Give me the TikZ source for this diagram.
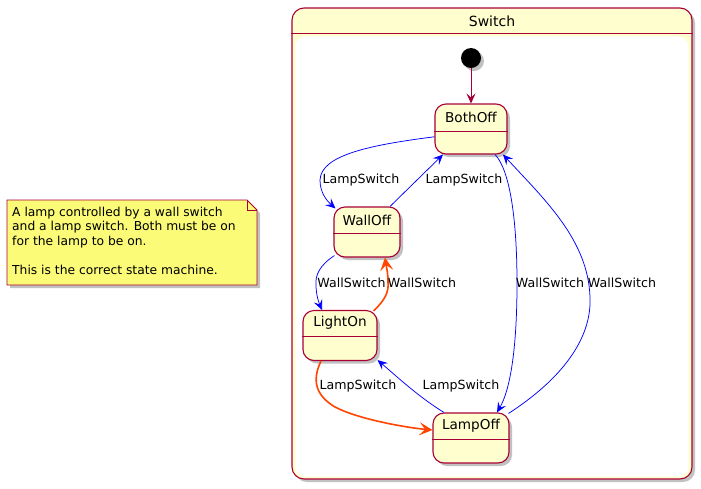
\documentclass[tikz,border=0pt]{standalone}
\usepackage{fontspec}
\setmainfont{DejaVu Sans}
\usetikzlibrary{arrows.meta,shadows,calc}
\definecolor{stfill}{HTML}{FEFECE}
\definecolor{stborder}{HTML}{A80036}
\definecolor{notefill}{HTML}{FBFB77}
\definecolor{edgeblue}{HTML}{0000FF}
\definecolor{edgeorange}{HTML}{FF4500}
\tikzset{
  shad/.style={drop shadow={shadow xshift=3pt,shadow yshift=-3pt,opacity=0.4,fill=black!60}},
  statebox/.style={draw=stborder,fill=stfill,line width=1.1pt,rounded corners=11pt,shad,inner sep=0pt,minimum height=50pt},
  divider/.style={draw=stborder,line width=0.8pt},
  lbl/.style={font=\fontsize{12.6}{14}\selectfont,inner sep=1pt},
  stname/.style={font=\fontsize{13.6}{15}\selectfont,inner sep=0pt},
  ar/.style={-{Stealth[length=10pt,width=9pt,inset=4pt]}},
  bl/.style={ar,draw=edgeblue,line width=0.75pt},
  orr/.style={-{Stealth[length=13pt,width=13pt,inset=5.5pt]},draw=edgeorange,line width=1.6pt},
}
\begin{document}
\begin{tikzpicture}[x=1pt,y=-1pt]
\useasboundingbox (0,0) rectangle (701,488);
% container
\node[draw=stborder,fill=stfill,line width=1.1pt,rounded corners=12pt,minimum width=400pt,minimum height=471pt,inner sep=0pt,shad] (Switch) at (492,243.5) {};
\fill[white,rounded corners=10pt] ($(Switch.north west)+(4,29)$) rectangle ($(Switch.south east)+(-4,-3)$);
\draw[divider] ($(Switch.north west)+(0,26)$) -- ($(Switch.north east)+(0,26)$);
\node[font=\fontsize{14}{16}\selectfont,inner sep=0pt] (SwitchT) at (492,21) {Switch};
% note
\fill[black!60,opacity=0.4] (10,203) -- (250,203) -- (260,213) -- (260,288) -- (10,288) -- cycle;
\draw[stborder,fill=notefill,line width=0.8pt] (7,200) -- (247,200) -- (257,210) -- (257,285) -- (7,285) -- cycle;
\draw[stborder,line width=0.8pt] (247,200) -- (247,210) -- (257,210);
\node[font=\fontsize{12.3}{14.5}\selectfont,align=left,anchor=north west,inner sep=0pt] (note) at (12,206.5) {A lamp controlled by a wall switch\\and a lamp switch. Both must be on\\for the lamp to be on.\\[14.5pt]This is the correct state machine.};
% initial
\node[circle,fill=black,minimum size=20pt,inner sep=0pt,shad] (init) at (471,58) {};
% states
\node[statebox,minimum width=72pt] (BothOff) at (471,129) {};
\node[stname] (BothOffT) at (471,117) {BothOff};
\draw[divider] (BothOff.west |- 0,131) -- (BothOff.east |- 0,131);
\node[statebox,minimum width=66pt] (WallOff) at (367,232) {};
\node[stname] (WallOffT) at (367,220) {WallOff};
\draw[divider] (WallOff.west |- 0,233) -- (WallOff.east |- 0,233);
\node[statebox,minimum width=74pt] (LightOn) at (340,335.5) {};
\node[stname] (LightOnT) at (340,323) {LightOn};
\draw[divider] (LightOn.west |- 0,336) -- (LightOn.east |- 0,336);
\node[statebox,minimum width=76pt] (LampOff) at (471,438) {};
\node[stname] (LampOffT) at (471,426) {LampOff};
\draw[divider] (LampOff.west |- 0,439) -- (LampOff.east |- 0,439);
% edges
\draw[ar,draw=stborder,line width=0.8pt] (init) -- (BothOff);
\draw[bl] (BothOff.192) .. controls (370,145) and (321,155) .. (320,180) .. controls (320,192) and (326,200) .. ($(WallOff.north west)+(2,2)$);
\node[lbl] (l1) at (361,180) {LampSwitch};
\draw[bl] ($(WallOff.north)+(23,0)$) -- ($(BothOff.south)+(-28,0)$);
\node[lbl] (l2) at (464,180) {LampSwitch};
\draw[bl] ($(WallOff.south west)+(1,-2)$) .. controls (320,265) and (315,275) .. (316,285) .. controls (316,295) and (319,303) .. ($(LightOn.north)+(-18,0)$);
\node[lbl] (l3) at (351.5,283) {WallSwitch};
\draw[orr] ($(LightOn.north east)+(-4,1)$) .. controls (385,300) and (389,292) .. (388,282) .. controls (388,272) and (386,265) .. ($(WallOff.south)+(18,0)$);
\node[lbl] (l4) at (422,283) {WallSwitch};
\draw[bl] ($(BothOff.south)+(24,0)$) .. controls (510,170) and (517,220) .. (517,283) .. controls (517,350) and (510,390) .. ($(LampOff.north)+(26,0)$);
\node[lbl] (l5) at (550,283) {WallSwitch};
\draw[bl] ($(LampOff.north east)+(-1,1)$) .. controls (560,380) and (592,340) .. (590,297) .. controls (588,240) and (545,200) .. ($(BothOff.south)+(32,0)$);
\node[lbl] (l6) at (622,283) {WallSwitch};
\draw[orr] ($(LightOn.south)+(-19,0)$) .. controls (312,380) and (315,395) .. (335,407) .. controls (360,420) and (410,428) .. ($(LampOff.west)+(0,-8)$);
\node[lbl] (l7) at (358,386) {LampSwitch};
\draw[bl] ($(LampOff.north)+(-27,0)$) .. controls (420,398) and (395,375) .. ($(LightOn.south east)+(0,-1)$);
\node[lbl] (l8) at (461,386) {LampSwitch};
\end{tikzpicture}
\end{document}
